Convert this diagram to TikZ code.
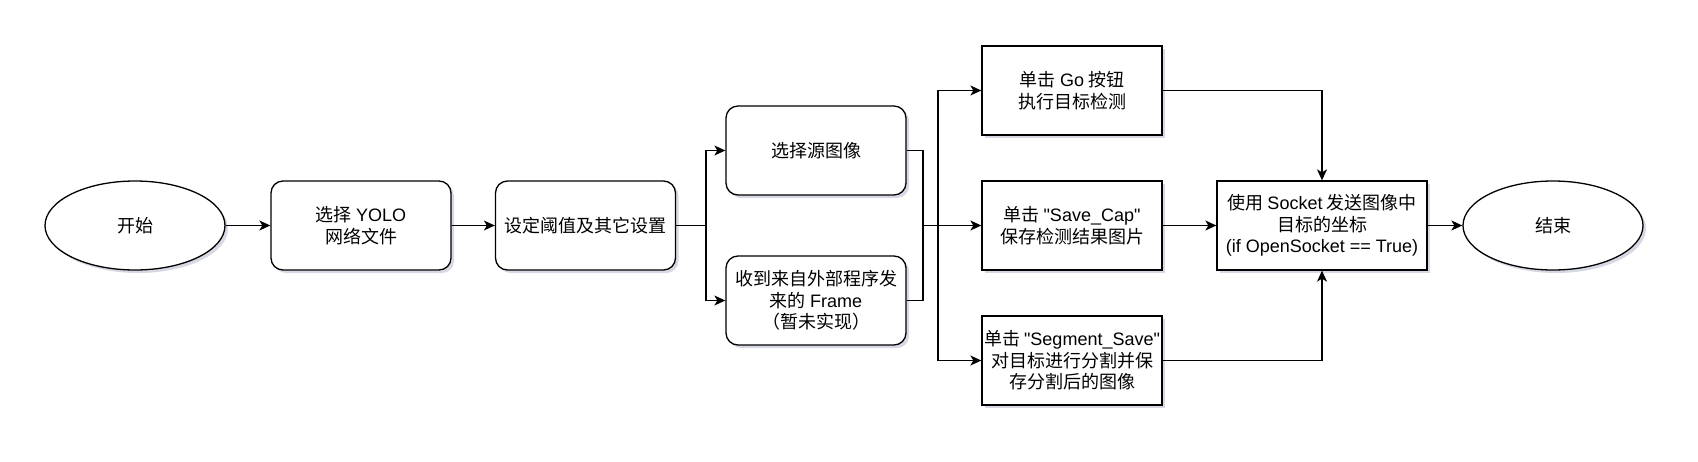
\documentclass[tikz,border=0pt]{standalone}
\usepackage{fontspec}
\setmainfont{Noto Sans CJK SC}
\newfontfamily\lat{Liberation Sans}
\usetikzlibrary{shapes.geometric,arrows.meta,shadows}
\definecolor{shadowc}{RGB}{70,80,130}
\tikzset{
  base/.style={draw=black, line width=1.3pt, fill=white, align=center,
    font=\fontsize{18}{21.6}\selectfont, inner sep=0pt,
    minimum width=180pt, minimum height=89pt,
    drop shadow={shadow xshift=3pt, shadow yshift=-3pt, fill=shadowc, opacity=0.22}},
  rbox/.style={base, rectangle, rounded corners=12pt},
  sbox/.style={base, rectangle},
  oval/.style={base, ellipse},
  arr/.style={draw=black, line width=1.3pt, -{Stealth[length=11pt,width=10pt,inset=3pt]}},
  ln/.style={draw=black, line width=1.3pt}
}
\begin{document}
\begin{tikzpicture}[x=1pt,y=-1pt]
\useasboundingbox (0,0) rectangle (1698,461);
\node[oval] (start) at (135,225.5) {开始};
\node[rbox] (yolo) at (361,225.5) {选择 {\lat YOLO}\\网络文件};
\node[rbox] (set) at (585.5,225.5) {设定阈值及其它设置};
\node[rbox] (src) at (816,150.5) {选择源图像};
\node[rbox] (frame) at (816,300.5) {收到来自外部程序发\\来的 {\lat Frame}\\（暂未实现）};
\node[sbox] (go) at (1072,90.5) {单击 {\lat Go} 按钮\\执行目标检测};
\node[sbox] (save) at (1072,225.5) {单击 {\lat "Save\_Cap"}\\保存检测结果图片};
\node[sbox] (seg) at (1072,360.5) {单击 {\lat "Segment\_Save"}\\对目标进行分割并保\\存分割后的图像};
\node[sbox, minimum width=210pt] (sock) at (1322,225.5) {使用 {\lat Socket} 发送图像中\\目标的坐标\\{\lat (if OpenSocket == True)}};
\node[oval] (end) at (1553,225.5) {结束};
\coordinate (b1) at (706,225.5);
\coordinate (m1) at (923,225.5);
\coordinate (b2) at (938,225.5);
\draw[arr] (start) -- (yolo);
\draw[arr] (yolo) -- (set);
\draw[ln] (set.east) -- (b1);
\draw[arr] (b1) |- (src.west);
\draw[arr] (b1) |- (frame.west);
\draw[ln] (src.east) -| (m1) |- (frame.east);
\draw[ln] (m1) -- (b2);
\draw[arr] (b2) |- (go.west);
\draw[arr] (b2) -- (save.west);
\draw[arr] (b2) |- (seg.west);
\draw[arr] (go.east) -| (sock.north);
\draw[arr] (seg.east) -| (sock.south);
\draw[arr] (save.east) -- (sock.west);
\draw[arr] (sock.east) -- (end.west);
\end{tikzpicture}
\end{document}
